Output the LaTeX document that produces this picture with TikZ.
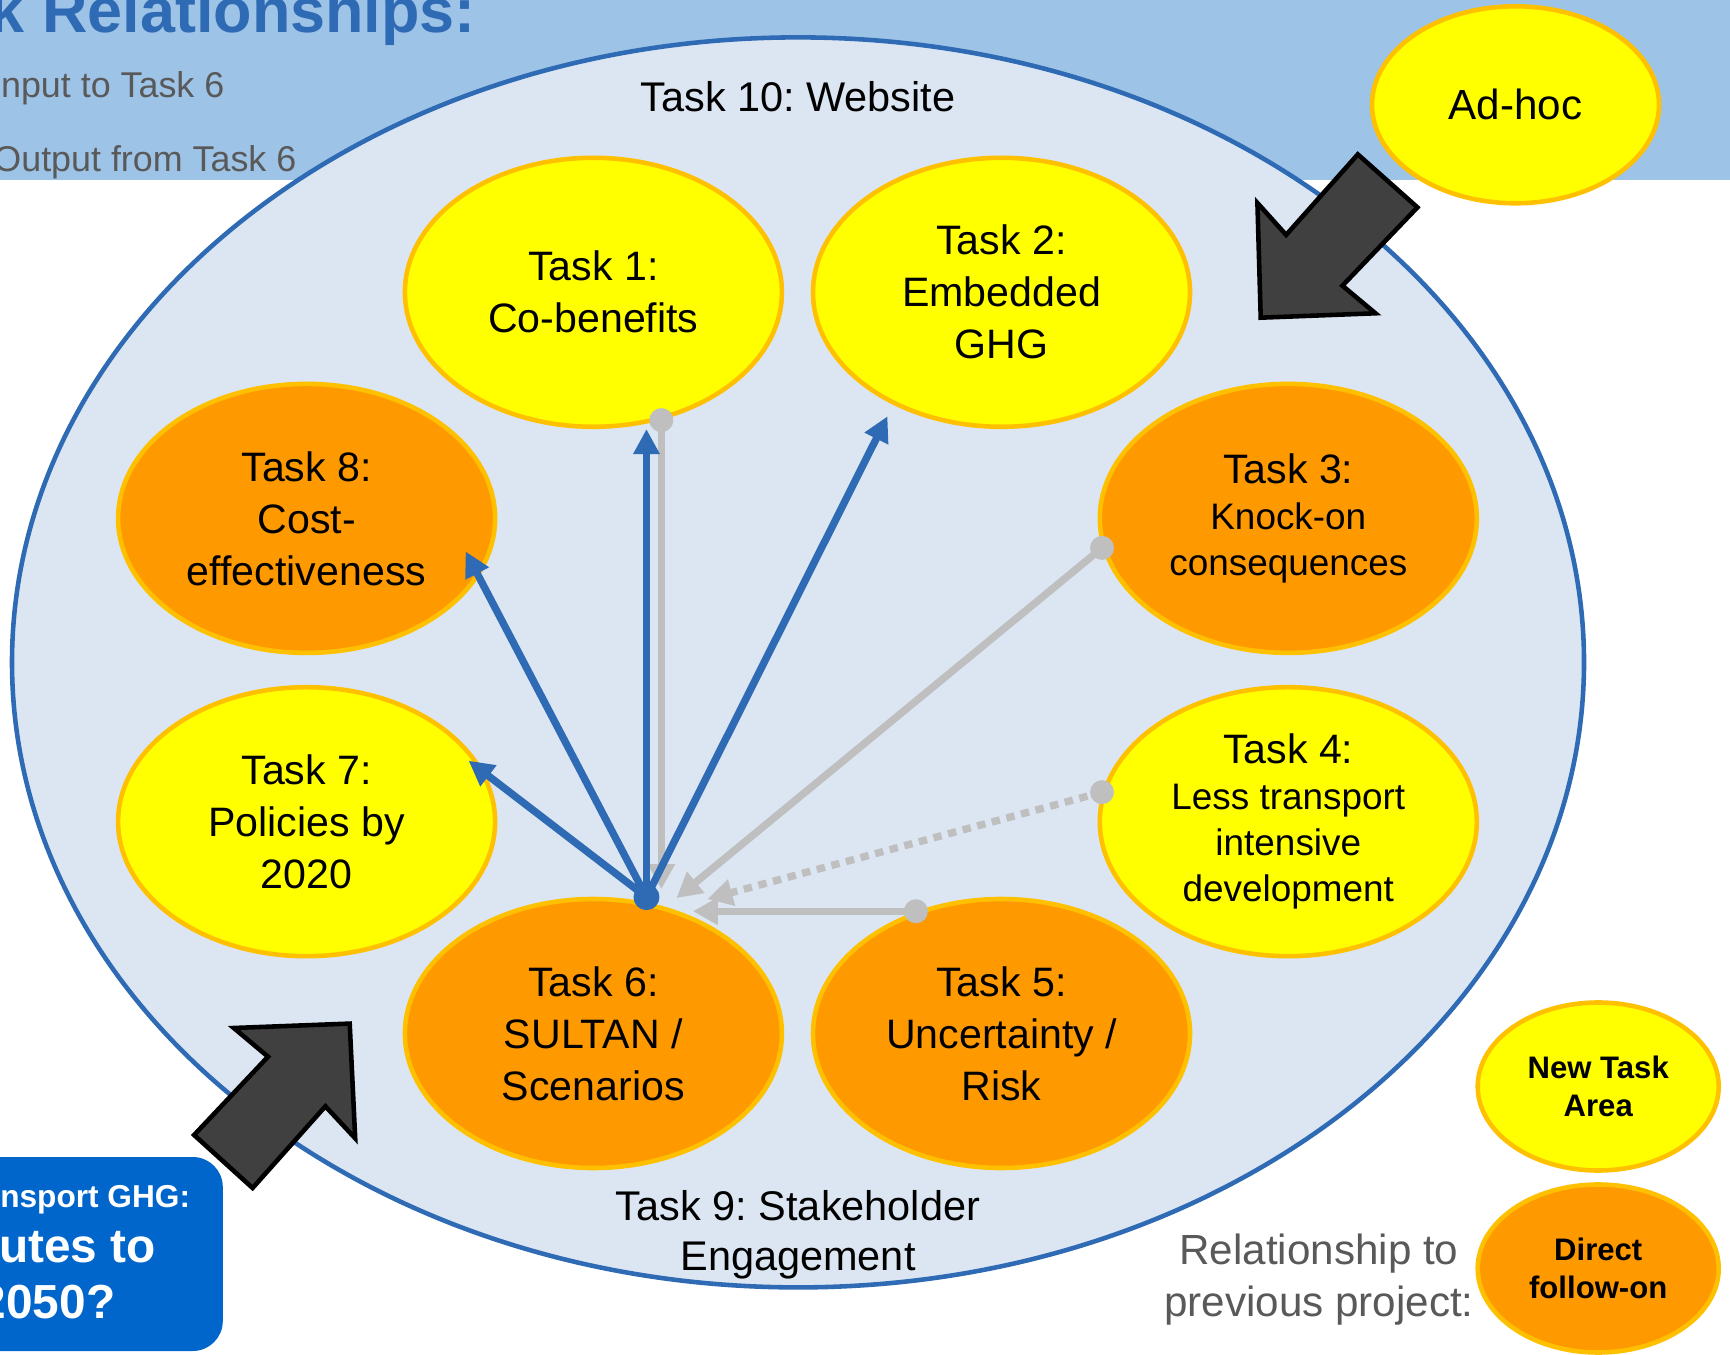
\documentclass[tikz,border=0pt]{standalone}
\usepackage{fontspec}
\setmainfont{Liberation Sans}
\frenchspacing
\usetikzlibrary{shapes.geometric, arrows.meta, calc}
\definecolor{bandblue}{HTML}{9DC3E6}
\definecolor{webfill}{HTML}{DCE6F2}
\definecolor{linkblue}{HTML}{2F6AB4}
\definecolor{feedgray}{HTML}{BFBFBF}
\definecolor{newyellow}{HTML}{FFFF00}
\definecolor{oldorange}{HTML}{FF9900}
\definecolor{rimgold}{HTML}{FFC000}
\definecolor{arrowgray}{HTML}{404040}
\definecolor{boxblue}{HTML}{0066CC}
\definecolor{notegray}{HTML}{595959}
\def\rd{1.2mm}
\def\dt{circle (\rd)}
\newcommand{\subline}{\fontsize{10.5}{12.9}\selectfont}
\tikzset{
  task/.style={ellipse, draw=rimgold, line width=1.3pt, inner sep=0pt, align=center,
    minimum width=3.77cm, minimum height=2.69cm, font=\fontsize{11.7}{14.8}\selectfont},
  newtask/.style={task, fill=newyellow},
  oldtask/.style={task, fill=oldorange},
  tight/.style={font=\fontsize{11.7}{13.1}\selectfont},
  outlink/.style={linkblue, line width=2.1pt, -{Triangle[length=2.5mm, width=2.5mm]}},
  inlink/.style={feedgray, line width=2.1pt, -{Triangle[length=2.5mm, width=2.6mm]}},
  blockarrow/.style={fill=arrowgray, draw=black, line width=1.3pt},
  note/.style={inner sep=0pt, text=notegray, font=\fontsize{10.2}{12}\selectfont},
  boxtext/.style={anchor=base east, inner sep=0pt, text=white},
}
\begin{document}
\begin{tikzpicture}
\useasboundingbox (0,0) rectangle (17.30,13.54);
% header band with the key
\fill[bandblue] (0,11.74) rectangle (17.30,13.54);
\node (title) [anchor=base east, inner sep=0pt, text=linkblue, font=\fontsize{17.9}{20}\selectfont\bfseries] at (4.765,13.21) {k Relationships:};
\node (keyin) [note, anchor=base east] at (2.25,12.56) {nput to Task 6};
\node (keyout) [note, anchor=base east] at (2.97,11.82) {Output from Task 6};

% outer ring: task 10 and task 9
\node (web) [ellipse, draw=linkblue, fill=webfill, line width=1.3pt, minimum width=15.72cm, minimum height=12.50cm] at (7.98,6.916) {};
\node (t10) [font=\fontsize{11.8}{14.7}\selectfont] at ([yshift=-0.62cm]web.north) {Task 10: Website};
\node (t9) [align=center, font=\fontsize{11.8}{14.1}\selectfont] at ([yshift=0.55cm]web.south) {Task 9: Stakeholder\\Engagement};

% task areas
\node (t1) [newtask] at (5.934,10.617) {Task 1:\\Co-benefits};
\node (t2) [newtask] at (10.015,10.617) {Task 2:\\Embedded\\GHG};
\node (t8) [oldtask] at (3.066,8.356) {Task 8:\\Cost-\\effectiveness};
\node (t3) [oldtask, tight] at (12.883,8.356) {Task 3:\\\subline Knock-on\\\subline consequences};
\node (t7) [newtask] at (3.066,5.323) {Task 7:\\Policies by\\2020};
\node (t4) [newtask, tight] at (12.883,5.323) {Task 4:\\\subline Less transport\\\subline intensive\\\subline development};
\node (t6) [oldtask] at (5.934,3.205) {Task 6:\\SULTAN /\\Scenarios};
\node (t5) [oldtask] at (10.015,3.205) {Task 5:\\Uncertainty /\\Risk};
\coordinate (hub) at ([yshift=0.5mm]t6.68);

% inputs to task 6
\draw[inlink] (t1.-62) -- ($(t1.-62 |- hub)+(0,0.08)$);
\draw[inlink] (t3.189) -- ($(hub)+(0.30,-0.01)$);
\draw[inlink, dash pattern=on 2.4pt off 1.9pt] (t4.171) -- ($(hub)+(0.61,-0.02)$);
\draw[inlink] (t5.125) -- ++(-2.23,0);
\foreach \p in {(t1.-62), (t3.189), (t4.171), (t5.125)}{
  \fill[feedgray] \p \dt;
}

% outputs from task 6
\draw[outlink] (hub) -- (hub |- t1.south);
\foreach \t/\dx/\dy in {t2/-1.14/-1.24, t8/1.59/-0.33, t7/1.62/0.61}{
  \draw[outlink] (hub) -- ($(\t)+(\dx,\dy)$);
}
\fill[linkblue] (hub) circle (1.3mm);

% ad-hoc work and the question feeding in
\draw[blockarrow] (13.578,11.996) -- (14.174,11.466) -- (13.424,10.683) -- (13.754,10.407) -- (12.607,10.363) -- (12.574,11.510) -- (12.861,11.191) -- cycle;
\draw[blockarrow] (2.338,3.260) -- (3.497,3.304) -- (3.552,2.157) -- (3.254,2.477) -- (2.526,1.660) -- (1.941,2.190) -- (2.680,2.973) -- cycle;
\node (adhoc) [newtask, minimum width=2.87cm, minimum height=1.97cm, font=\fontsize{12}{14}\selectfont] at (15.155,12.492) {Ad-hoc};

\fill[boxblue, rounded corners=0.3cm] (-0.5,0.03) rectangle (2.228,1.97);
\node (q1) [boxtext, font=\fontsize{9}{11}\selectfont\bfseries] at (1.908,1.47) {nsport GHG:};
\node (q2) [boxtext, font=\fontsize{13.6}{16}\selectfont\bfseries] at (1.566,0.92) {utes to};
\node (q3) [boxtext, font=\fontsize{13.6}{16}\selectfont\bfseries] at (1.16,0.36) {2050?};

% legend
\node (keynew) [newtask, minimum width=2.41cm, minimum height=1.68cm, font=\fontsize{8.85}{11}\selectfont\bfseries] at (15.982,2.675) {New Task\\Area};
\node (keyold) [oldtask, minimum width=2.41cm, minimum height=1.68cm, font=\fontsize{8.85}{11}\selectfont\bfseries] at (15.982,0.855) {Direct\\follow-on};
\node (relnote) [align=center, text=notegray, font=\fontsize{12}{14.75}\selectfont] at (13.19,0.74) {Relationship to\\previous project:};
\end{tikzpicture}
\end{document}
